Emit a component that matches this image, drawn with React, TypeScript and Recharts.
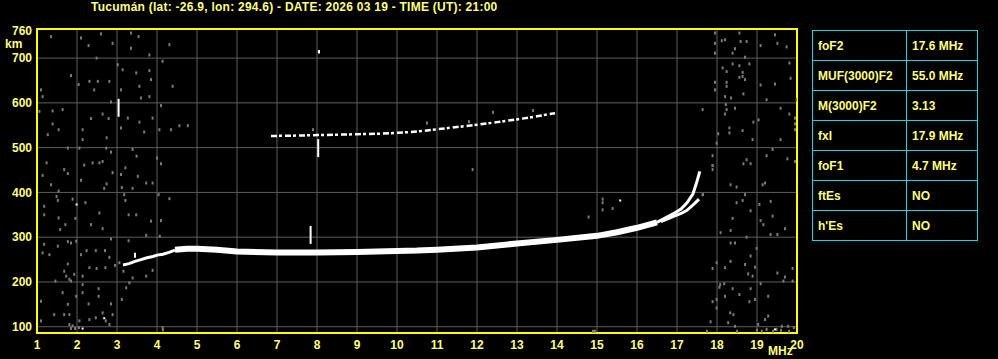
import React from "react";
import { ComposedChart, Line, Scatter, XAxis, YAxis, CartesianGrid, ReferenceArea } from "recharts";

const title = "Tucumán (lat: -26.9, lon: 294.6) - DATE: 2026 03 19 - TIME (UT): 21:00";

const freqTicks = [1, 2, 3, 4, 5, 6, 7, 8, 9, 10, 11, 12, 13, 14, 15, 16, 17, 18, 19, 20];
const heightTicks = [100, 200, 300, 400, 500, 600, 700, 760];
const gridFreqs = [2, 3, 4, 5, 6, 7, 8, 9, 10, 11, 12, 13, 14, 15, 16, 17, 18, 19];
const gridHeights = [100, 200, 300, 400, 500, 600, 700];

// F trace, ordinary: low (thin) part, main body, and cusp near foF2
const lowF = [3.15, 3.3, 3.45, 3.6, 3.75, 3.9, 4.0, 4.15, 4.3, 4.45];
const lowH = [238, 241, 246, 250, 254, 257, 260, 262, 266, 271];
const mainF = [4.45, 4.75, 5.0, 5.5, 6.0, 7.0, 8.0, 9.0, 10.0, 10.5, 11.0, 12.0, 13.0, 14.0, 15.0, 15.5, 16.0, 16.5];
const mainH = [272, 274, 274, 272, 268, 266, 266, 267, 269, 270, 272, 277, 286, 294, 303, 311, 321, 333];
const cuspF = [16.5, 16.9, 17.1, 17.25, 17.4, 17.5, 17.57];
const cuspH = [333, 352, 363, 377, 397, 425, 447];

// extraordinary branch
const xF = [16.6, 16.9, 17.1, 17.25, 17.45, 17.55];
const xH = [335, 346, 353, 360, 376, 385];

// second hop echo
const hopF = [6.85, 7.5, 8.0, 8.5, 9.0, 9.5, 10.0, 10.5, 11.0, 11.5, 12.0, 12.5, 13.0, 13.5, 13.95];
const hopH = [526, 527, 528, 529, 530, 531, 533, 536, 541, 546, 551, 557, 563, 570, 577];

// short vertical spikes [f, hLow, hHigh]
const spikes: [number, number, number][] = [
  [3.04, 569, 609],
  [7.84, 285, 325],
  [8.03, 479, 519],
  [8.05, 710, 718],
  [3.45, 254, 265],
];

const noise: [number, number][] = [
  [1.35, 748], [2.1, 745], [2.6, 754], [2.29, 728], [2.89, 733], [3.35, 756], [3.54, 748], [3.35, 722], [4.31, 730],
  [2.49, 700], [3.81, 707], [1.85, 661], [2.31, 648], [2.52, 648], [2.81, 648], [2.04, 641], [3.02, 685], [3.14, 674],
  [3.48, 667], [3.81, 672], [3.85, 652], [4.14, 693], [4.39, 637], [1.1, 629], [1.14, 614], [2.43, 629], [3.1, 629],
  [3.56, 637], [3.81, 614], [3.6, 611], [2.85, 602], [4.1, 594], [1.06, 581], [1.39, 582], [1.64, 585], [1.39, 553],
  [1.54, 540], [1.27, 529], [2.35, 565], [2.64, 575], [2.79, 565], [2.14, 540], [2.14, 518], [2.74, 522], [3.1, 544],
  [3.27, 566], [3.56, 557], [3.89, 566], [3.68, 535], [4.06, 540], [4.35, 540], [4.56, 549], [4.77, 549], [1.77, 499],
  [2.06, 499], [2.73, 499], [3.39, 496], [2.85, 490], [1.24, 466], [1.68, 451], [2.18, 461], [2.39, 466], [2.56, 466],
  [2.64, 469], [1.77, 442], [1.14, 438], [2.1, 427], [2.89, 444], [3.1, 440], [3.21, 455], [3.49, 481], [3.52, 436],
  [3.73, 421], [3.89, 421], [4.1, 464], [4.0, 477], [1.35, 417], [2.74, 419], [2.68, 409], [3.12, 411], [3.39, 409],
  [1.54, 403], [1.49, 391], [1.52, 382], [1.89, 385], [1.18, 369], [1.18, 350], [2.21, 377], [2.56, 354], [1.54, 343],
  [1.96, 342], [3.18, 395], [3.21, 382], [3.29, 350], [3.48, 350], [3.85, 336], [4.1, 337], [4.31, 386], [4.04, 395],
  [1.58, 317], [1.71, 328], [2.35, 328], [2.64, 319], [3.73, 304], [4.07, 302], [1.18, 284], [1.14, 265], [1.31, 261],
  [1.52, 280], [1.77, 290], [1.85, 287], [1.98, 291], [2.24, 270], [2.47, 270], [2.7, 270], [2.1, 261], [2.81, 255],
  [3.29, 292], [2.85, 296], [1.77, 240], [1.68, 224], [1.73, 213], [1.81, 206], [1.93, 217], [2.14, 213], [2.31, 232],
  [2.49, 230], [2.71, 232], [2.95, 237], [3.16, 224], [3.39, 209], [3.73, 213], [3.89, 226], [3.06, 243], [1.46, 202],
  [1.85, 202], [2.14, 194], [3.23, 187], [3.31, 198], [1.64, 176], [1.77, 150], [1.68, 127], [1.1, 157], [1.81, 127],
  [1.43, 127], [1.98, 168], [2.14, 176], [2.29, 151], [2.54, 185], [2.54, 168], [2.64, 131], [2.89, 127], [2.85, 151],
  [3.12, 161], [2.31, 116], [2.47, 120], [2.72, 113], [1.1, 113], [1.81, 105], [1.89, 102], [2.06, 113], [2.81, 105],
  [4.14, 98], [1.85, 96], [1.95, 96], [2.05, 98],
  [15.14, 385], [15.14, 377], [15.14, 361], [15.39, 364], [14.79, 345], [11.89, 451], [17.89, 460], [17.65, 395],
  [14.9, 90], [14.95, 90], [4.15, 93], [12.4, 579], [13.4, 583], [11.8, 558], [10.75, 555], [7.9, 540], [17.75, 90],
  [17.95, 756], [17.95, 733], [17.95, 711], [18.12, 739], [18.2, 741], [18.56, 756], [18.59, 737], [18.74, 737],
  [18.45, 721], [18.39, 711], [18.7, 702], [19.09, 728], [19.45, 752], [19.51, 733], [19.74, 725], [18.39, 687],
  [18.56, 683], [18.81, 687], [18.14, 678], [18.24, 670], [18.64, 668], [18.64, 659], [18.56, 657], [18.7, 652],
  [18.24, 646], [18.24, 637], [17.95, 646], [17.95, 629], [18.2, 614], [18.35, 611], [18.66, 620], [19.09, 640],
  [19.45, 642], [19.81, 689], [19.84, 655], [19.24, 607], [19.99, 607], [17.64, 585], [18.22, 596], [18.24, 585],
  [18.2, 575], [18.45, 588], [18.91, 557], [19.04, 562], [19.59, 588], [19.81, 575], [19.95, 566], [19.95, 553],
  [19.95, 540], [18.31, 544], [18.31, 533], [18.64, 538], [18.89, 518], [19.59, 518], [18.03, 531], [17.99, 510],
  [17.89, 482], [17.89, 460], [17.89, 451], [18.74, 473], [18.66, 464], [18.84, 464], [19.39, 496], [19.24, 482],
  [19.76, 475], [19.95, 469], [18.34, 417], [18.49, 412], [19.14, 417], [19.2, 421], [17.64, 395], [18.7, 395],
  [18.64, 382], [18.49, 377], [18.84, 359], [19.06, 373], [19.34, 380], [18.39, 342], [19.09, 337], [19.16, 328],
  [19.39, 347], [19.7, 319], [18.09, 310], [18.34, 315], [18.74, 300], [19.34, 306], [19.51, 306], [18.34, 287],
  [18.45, 287], [18.99, 275], [18.84, 258], [18.7, 239], [18.34, 246], [18.95, 233], [18.89, 213], [18.78, 218],
  [18.2, 232], [17.89, 230], [17.99, 243], [19.51, 220], [19.7, 211], [19.89, 230], [19.66, 202], [19.89, 202],
  [19.09, 196], [18.08, 194], [18.18, 196], [18.06, 188], [18.2, 168], [18.39, 185], [18.56, 172], [18.84, 185],
  [18.81, 156], [18.95, 161], [19.28, 168], [17.99, 161], [17.89, 156], [17.99, 142], [18.33, 131], [18.41, 127],
  [18.28, 109], [18.45, 101], [17.84, 111], [19.2, 116], [19.28, 124], [19.03, 105], [19.62, 101], [19.78, 101],
  [19.92, 98], [19.49, 94], [19.24, 94], [19.12, 90], [19.4, 90], [19.6, 92], [19.8, 90], [19.0, 92], [18.5, 90],
];

const brightDots: [number, number][] = [
  [1.99, 373], [2.68, 119], [2.14, 96], [15.58, 382], [19.45, 94],
];

const paramNames = ["foF2", "MUF(3000)F2", "M(3000)F2", "fxI", "foF1", "ftEs", "h'Es"];
const paramValues = ["17.6 MHz", "55.0 MHz", "3.13", "17.9 MHz", "4.7 MHz", "NO", "NO"];

const toPts = (fs: number[], hs: number[]) => fs.map((f, i) => ({ f, h: hs[i] }));
const toObj = (arr: [number, number][]) => arr.map(([f, h]) => ({ f, h }));

const YELLOW = "#ffff80";
const FONT = "'Liberation Sans', Arial, sans-serif";

const Speck = (props: any) => {
  const { cx, cy } = props;
  return <rect x={cx - 1} y={cy - 1.5} width={2} height={3} fill="#7a7a7a" />;
};
const Bright = (props: any) => {
  const { cx, cy } = props;
  return <rect x={cx - 1} y={cy - 1} width={2} height={2} fill="#ffffff" />;
};

export default function App() {
  return (
    <div style={{ position: "fixed", left: 0, top: 0, width: 998, height: 359, background: "#000", fontFamily: FONT, overflow: "hidden" }}>
      <div style={{ position: "absolute", left: 91, top: 0, color: YELLOW, fontSize: 12, fontWeight: "bold", whiteSpace: "nowrap", lineHeight: "14px", letterSpacing: "0.25px" }}>
        {title}
      </div>
      <div style={{ position: "absolute", left: 5, top: 37, color: YELLOW, fontSize: 12, fontWeight: "bold", lineHeight: "14px" }}>km</div>
      <div style={{ position: "absolute", left: 768, top: 344, color: YELLOW, fontSize: 12, fontWeight: "bold", lineHeight: "14px" }}>MHz</div>

      <ComposedChart width={998} height={359} margin={{ top: 29, right: 201, bottom: 0, left: 0 }}>
        <CartesianGrid stroke="#5e5e5e" strokeWidth={1} horizontalValues={gridHeights} verticalValues={gridFreqs} />
        <XAxis
          type="number"
          dataKey="f"
          domain={[1, 20]}
          ticks={freqTicks}
          height={26}
          tickLine={false}
          axisLine={false}
          tickSize={6}
          tickMargin={1}
          interval={0}
          tick={{ fill: YELLOW, fontSize: 12, fontWeight: "bold", fontFamily: FONT }}
          allowDataOverflow
        />
        <YAxis
          type="number"
          dataKey="h"
          domain={[86, 765]}
          ticks={heightTicks}
          width={37}
          tickLine={false}
          axisLine={false}
          tickSize={4}
          tickMargin={1}
          interval={0}
          tick={{ fill: YELLOW, fontSize: 12, fontWeight: "bold", fontFamily: FONT }}
          allowDataOverflow
        />
        <Scatter data={toObj(noise)} shape={Speck} isAnimationActive={false} />
        <Scatter data={toObj(brightDots)} shape={Bright} isAnimationActive={false} />
        <Line data={toPts(hopF, hopH)} dataKey="h" stroke="#ffffff" strokeWidth={2.5} strokeDasharray="6 2 3 3" dot={false} isAnimationActive={false} />
        <Line data={toPts(lowF, lowH)} dataKey="h" stroke="#ffffff" strokeWidth={3} dot={false} isAnimationActive={false} />
        <Line data={toPts(mainF, mainH)} dataKey="h" stroke="#ffffff" strokeWidth={6} dot={false} isAnimationActive={false} />
        <Line data={toPts(cuspF, cuspH)} dataKey="h" stroke="#ffffff" strokeWidth={3} dot={false} isAnimationActive={false} />
        <Line data={toPts(xF, xH)} dataKey="h" stroke="#ffffff" strokeWidth={3} dot={false} isAnimationActive={false} />
        {spikes.map(([f, lo, hi], i) => (
          <Line key={i} data={[{ f, h: lo }, { f, h: hi }]} dataKey="h" stroke="#ffffff" strokeWidth={2} dot={false} isAnimationActive={false} />
        ))}
        <ReferenceArea x1={1} x2={20} y1={86} y2={765} fill="none" stroke="#ffff00" strokeWidth={2} ifOverflow="visible" />
      </ComposedChart>

      <table
        style={{
          position: "absolute",
          left: 812,
          top: 30,
          borderCollapse: "collapse",
          color: YELLOW,
          fontSize: 12,
          fontWeight: "bold",
          fontFamily: FONT,
        }}
      >
        <tbody>
          {paramNames.map((name, i) => (
            <tr key={name} style={{ height: 30 }}>
              <td style={{ border: "1px solid #1ad6e0", width: 88, padding: "0 0 0 5px" }}>{name}</td>
              <td style={{ border: "1px solid #1ad6e0", width: 65, padding: "0 0 0 5px" }}>{paramValues[i]}</td>
            </tr>
          ))}
        </tbody>
      </table>
    </div>
  );
}
